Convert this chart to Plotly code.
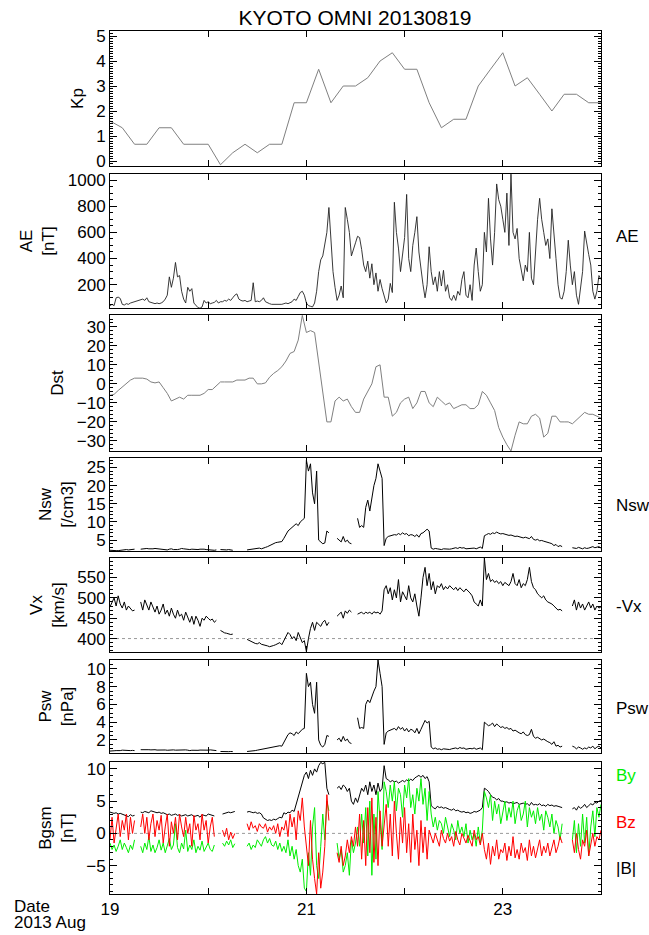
import plotly.graph_objects as go
from plotly.subplots import make_subplots

TITLE = "KYOTO OMNI 20130819"
DAY0 = 19.0
X_TICKS = [19, 20, 21, 22, 23, 24]
X_TEXT = ["19", "", "21", "", "23", ""]

# Kp, 3-hourly
kp = [1.6, 1.33, 0.67, 0.67, 1.33, 1.33, 0.67, 0.67, 0.67, -0.15,
      0.33, 0.67, 0.33, 0.67, 0.67, 2.33, 2.33, 3.67, 2.33, 3.0,
      3.0, 3.33, 4.0, 4.33, 3.67, 3.67, 2.33, 1.33, 1.67, 1.67,
      3.0, 3.67, 4.33, 3.0, 3.33, 2.67, 2.0, 2.67, 2.67, 2.33, 2.33]

# Dst, hourly
dst = [-6, -5.5, -3.5, -1.5, 0.5, 2, 3, 3, 3, 2.5,
       1, 0.5, 1, -2, -5, -9, -8, -7, -8, -6,
       -6, -6, -6, -5, -3, -3, -1, 1, 1, 1,
       1, 2, 2, 2, 3, 3, 0, 0, 0.5, 3.5,
       5.5, 7, 9, 12, 16, 17, 23, 36, 27, 28,
       27, 11, -5, -20, -20, -9, -7, -9, -8, -12,
       -15, -15, -8, -4, 0, 9, 10, -7, -7, -17,
       -15, -10, -8, -7, -13, -10, -4, -4, -10, -12,
       -7, -9, -11, -10, -13, -12, -11, -11, -13, -13,
       -11, -4, -6, -10, -14, -23, -28, -32, -35.3, -27,
       -20, -21, -21, -17, -16, -18, -28, -26, -17, -17,
       -20, -20, -20, -21, -19, -17, -15, -16, -16, -17,
       -18]

# AE [nT], half-hourly
ae = [40, 50, 40, 100, 105, 95, 50, 45, 55, 50, 60, 65, 70, 75, 80, 85, 90, 80, 100, 70,
      65, 60, 55, 60, 55, 60, 70, 90, 120, 260, 180, 250, 370, 260, 270, 150, 90, 60, 180, 150,
      170, 60, 40, 25, 20, 30, 80, 60,
      70, 55, 60, 65, 80, 60, 70, 70, 80, 75, 90, 80, 100, 120, 130, 90, 80, 75, 80, 70,
      75, 80, 215, 70, 75, 70, 80, 100, 70, 60, 55, 50, 50, 45, 50, 45, 50, 55, 60, 55,
      65, 70, 90, 80, 110, 140, 150, 120,
      60, 40, 35, 30, 60, 150, 300, 390, 420, 500, 600, 790, 500, 300, 180, 80, 120, 190, 100, 790,
      700, 600, 420, 480, 520, 570, 560, 470, 350, 300, 380, 250, 360, 200, 290, 150, 240, 170, 120, 60,
      90, 210, 140, 830, 600, 480, 300, 420,
      560, 890, 400, 300, 500, 600, 720, 450, 300, 200, 100, 200, 490, 300, 200, 260, 150, 300, 190, 310,
      150, 200, 100, 80, 120, 80, 150, 120, 240, 300, 120, 100, 200, 80, 350, 480, 300, 150, 200, 600,
      450, 860, 550, 350, 600, 970, 850, 800,
      700, 600, 900, 500, 1045, 600, 550, 630, 400, 300, 230, 350, 300, 600, 250, 200, 450, 700, 860, 700,
      600, 500, 550, 400, 780, 550, 400, 200, 100, 90, 150, 300, 540, 350, 200, 300, 120, 50, 200, 300,
      610, 500, 430, 350, 150, 90, 150, 270, 240]

# Nsw [/cm3], half-hourly (None = data gap)
nsw = ([2.2, 2.1, 2.2, 2.1, 2.1, 2.2, 2.3, 2.4, 2.4, 2.3, 2.4, 2.4, 2.5] + [None, None] +
       [2.5, 2.6, 2.5, 2.7, 2.6, 2.5, 2.6, 2.7, 2.6, 2.5, 2.4, 2.5, 2.4, 2.3, 2.5, 2.6, 2.4, 2.3, 2.4,
        2.5, 2.7, 2.6, 2.5, 2.6, 2.4, 2.5, 2.4, 2.3, 2.4, 2.5, 2.6, 2.5, 2.4, 2.3, 2.4, 2.3, 2.2, 2.3] +
       [None] + [2.4, 2.3, 2.2, 2.3, 2.4, 2.3, 2.2] + [None] * 6 +
       [2.3, 2.4, 2.6, 2.5, 2.6, 2.7, 2.8, 2.6, 2.7, 3.0, 3.2, 3.5, 3.8, 4.0, 4.3, 4.4, 4.5, 4.6, 5.5,
        6.5, 7.5, 8.0, 8.5, 9.0, 9.5, 9.0, 10.0, 10.5, 11.0] +
       [27, 24, 26, 18, 15, 24, 5.0, 4.5, 4.0, 4.2, 7.5, 7.0] + [None] * 3 +
       [5.5, 5.0, 4.5, 6.0, 4.5, 5.0, 4.2, 4.0] + [None] * 2 +
       [11, 8.5, 9.0, 8.5, 14, 16, 13, 17, 20, 22, 26, 24, 22] +
       [3.5, 5.5, 6.0, 6.2, 6.3, 6.5, 6.4, 6.8, 6.5, 7.0, 6.6, 6.8, 6.2, 6.5, 6.4, 6.0, 6.5, 5.8, 6.8,
        7.0, 7.5, 8.0, 7.5] +
       [2.8, 2.5, 2.7, 2.6, 2.5, 2.4, 2.6, 2.5, 2.4, 2.5, 2.6, 2.8, 2.9, 2.7, 3.0, 2.8, 2.9, 2.6, 2.7,
        2.8, 2.7, 2.8, 2.6, 2.9, 3.1, 2.7] +
       [6.2, 6.5, 6.8, 6.6, 7.0, 6.8, 7.2, 6.9, 6.7, 6.8, 6.6, 6.5, 6.3, 6.4, 6.2, 6.0, 6.1, 5.9, 5.8,
        5.6, 5.8, 5.5, 5.4, 6.0, 5.2, 5.0, 5.2, 4.8, 4.9, 4.7, 4.6, 4.5, 4.2, 4.0, 3.5, 3.8, 3.2, 3.5, 3.2] +
       [None] * 4 +
       [2.9, 2.8, 2.7, 3.0, 2.8, 2.6, 2.9, 2.7, 2.8, 3.0, 3.2, 2.9, 3.0, 3.2, 2.8])

# -Vx [km/s], half-hourly
vx = ([478, 490, 500, 480, 505, 485, 475, 490, 470, 480, 475, 468, 470] + [None, None] +
      [490, 470, 495, 480, 470, 490, 475, 465, 480, 460, 470, 485, 460, 470, 455, 475, 460, 450, 470,
       455, 460, 445, 465, 450, 440, 455, 435, 455, 445, 430, 450, 445, 455, 450, 445, 448, 440, 445] +
      [None] + [420, 416, 414, 413, 412, 410, 411] + [None] * 6 +
      [398, 395, 392, 390, 388, 387, 390, 386, 385, 384, 382, 380, 381, 383, 385, 388, 390, 385, 395,
       405, 415, 410, 400, 405, 395, 415, 400, 390, 395] +
      [368, 400, 425, 440, 420, 440, 435, 430, 440, 445, 432, 440] + [None] * 3 +
      [455, 460, 465, 450, 468, 462, 470, 465] + [None] * 2 +
      [460, 462, 465, 460, 465, 462, 465, 460, 466, 463, 465, 460, 468] +
      [520, 530, 510, 525, 495, 520, 500, 545, 490, 515, 505, 495, 530, 500, 490, 510, 480, 455, 500,
       550, 575, 530, 560] +
      [520, 540, 510, 530, 525, 535, 520, 528, 522, 530, 524, 520, 526, 518, 525, 520, 515, 522, 518,
       512, 505, 490, 485, 480, 495, 480] +
      [598, 545, 560, 540, 545, 538, 542, 535, 540, 530, 538, 535, 530, 540, 560, 535, 530, 545, 525,
       535, 530, 545, 575, 540, 525, 520, 510, 505, 500, 505, 495, 490, 488, 485, 480, 475, 470, 472, 468] +
      [None] * 4 +
      [480, 495, 470, 490, 475, 485, 470, 480, 490, 475, 485, 470, 480, 475, 478])

# Psw [nPa], half-hourly
psw = ([0.75, 0.8, 0.78, 0.8, 0.76, 0.8, 0.85, 0.82, 0.8, 0.78, 0.8, 0.82, 0.8] + [None, None] +
       [0.9, 0.92, 0.88, 0.95, 0.9, 0.88, 0.92, 0.9, 0.86, 0.88, 0.85, 0.9, 0.87, 0.84, 0.86, 0.9, 0.88,
        0.85, 0.87, 0.86, 0.9, 0.92, 0.88, 0.85, 0.8, 0.84, 0.82, 0.8, 0.83, 0.86, 0.84, 0.82, 0.8, 0.85,
        0.88, 0.86, 0.84, 0.8] +
       [None] + [0.7, 0.68, 0.7, 0.66, 0.68, 0.7, 0.69] + [None] * 6 +
       [0.7, 0.72, 0.7, 0.75, 0.8, 0.85, 0.9, 0.95, 1.0, 1.05, 1.1, 1.15, 1.2, 1.25, 1.3, 1.3, 1.35, 1.3,
        1.8, 2.2, 2.6, 2.8, 2.7, 2.5, 2.9, 2.7, 3.0, 3.2, 3.3] +
       [9.5, 8.0, 8.5, 6.0, 5.0, 8.5, 2.0, 1.4, 1.2, 1.5, 2.5, 2.4] + [None] * 3 +
       [2.0, 2.2, 1.8, 2.4, 1.9, 2.1, 1.7, 1.6] + [None] * 2 +
       [4.5, 3.3, 3.4, 3.3, 6.0, 6.5, 6.2, 7.0, 7.5, 8.0, 11.0, 9.5, 8.0] +
       [1.5, 2.8, 3.0, 3.1, 3.2, 3.3, 3.1, 3.5, 3.2, 3.4, 3.0, 3.3, 2.9, 3.2, 3.1, 2.8, 3.3, 2.7, 3.2,
        3.8, 4.2, 3.9, 4.1] +
       [1.2, 1.0, 1.1, 0.95, 1.0, 0.9, 1.0, 0.95, 0.9, 0.92, 1.0, 1.05, 1.1, 1.0, 1.15, 1.05, 1.1, 0.95,
        1.0, 1.05, 1.0, 1.1, 0.95, 1.05, 1.1, 0.9] +
       [4.0, 3.8, 3.6, 3.7, 3.9, 3.5, 3.8, 3.6, 3.4, 3.5, 3.3, 3.4, 3.2, 3.3, 3.0, 3.1, 2.9, 2.8, 2.7,
        2.9, 2.6, 2.5, 2.6, 3.2, 2.4, 2.2, 2.3, 2.1, 2.0, 2.1, 1.9, 1.8, 1.7, 1.5, 1.8, 1.3, 1.4, 1.2, 1.3] +
       [None] * 4 +
       [1.3, 1.2, 1.0, 1.2, 1.1, 0.95, 1.1, 1.0, 1.2, 1.1, 1.3, 1.0, 1.2, 1.3, 1.1])

# IMF |B|, By, Bz (GSM) [nT], half-hourly
bt = ([3.3, 3.2, 3.1, 3.2, 3.0, 3.1, 3.0, 2.9, 2.8, 2.6, 2.9, 2.7, 2.8] + [None, None] +
      [3.3, 3.2, 3.4, 3.3, 3.2, 3.5, 3.4, 3.3, 3.2, 3.3, 3.1, 3.2, 3.0, 2.9, 3.0, 2.8, 2.9, 3.0, 2.8,
       2.9, 2.7, 2.8, 2.9, 2.7, 2.8, 2.9, 2.6, 2.7, 2.8, 2.5, 2.9, 2.8, 2.7, 3.0, 2.9, 2.8, 2.7] +
      [None] * 3 + [3.0, 3.1, 3.2, 3.3, 3.2, 3.3, 3.4] + [None] * 5 +
      [3.3, 3.4, 3.3, 3.2, 3.3, 3.1, 3.2, 3.0, 2.4, 2.2, 2.0, 2.1, 2.0, 2.2, 2.1, 2.3, 2.5, 2.4, 3.2,
       3.0, 3.3, 3.2, 3.6, 3.4, 4.5, 5.5, 6.5, 7.5, 9.0, 9.5, 8.5, 9.8, 9.0, 10.0, 9.5, 10.5, 11.0,
       10.8, 11.0, 7.0, 6.0] +
      [None] * 3 +
      [7.0, 7.3, 6.8, 7.5, 7.2, 6.5, 7.0, 5.0, 4.5, 5.5, 4.8, 6.0, 7.0, 6.5, 7.5, 6.0, 8.0, 6.5, 7.5,
       6.0, 7.8, 6.5, 7.0, 10.5, 8.5, 8.3, 8.0, 8.2, 8.0, 8.1, 7.8, 8.0, 8.2, 8.0, 8.3, 8.1, 8.4, 8.2,
       8.6, 8.8, 9.0, 8.7, 9.0, 8.5, 8.8, 8.0, 4.3, 4.0, 3.8, 4.2, 4.0, 4.1, 3.9, 4.0, 3.8, 3.7, 3.6,
       3.8, 3.5, 3.6, 3.4, 3.3, 3.4, 3.2, 3.3, 3.1, 3.2, 3.4, 3.3, 3.5, 3.6, 4.0, 7.0, 6.8, 6.5, 6.0,
       5.6, 5.5, 5.2, 5.4, 5.0, 5.0, 4.8, 4.9, 4.7, 4.8, 4.6, 4.7, 4.8, 4.5, 4.6, 4.7, 4.5, 4.6, 4.3,
       4.8, 4.4, 4.5, 4.4, 4.6, 4.3, 4.4, 4.2, 4.5, 4.3, 4.4, 4.2, 4.3, 4.2, 4.1, 4.0] +
      [None] * 4 +
      [3.8, 4.0, 3.6, 4.2, 3.9, 4.1, 4.5, 4.0, 4.3, 4.6, 4.4, 4.8, 4.7, 5.0, 5.1])

by = ([-1.5, -2.5, -1.8, -2.8, -2.0, -1.0, -2.5, -1.5, -2.2, -3.0, -1.8, -2.5, -1.0] + [None, None] +
      [-2.0, -3.0, -1.5, -2.5, -0.5, -2.8, -1.8, -3.0, -2.2, -1.0, -2.6, -1.5, -3.0, -2.0, -0.8, -2.5,
       -1.8, 1.5, -2.2, -3.0, -1.5, -2.4, 0.5, -2.8, -1.8, -2.5, -1.0, -3.0, -2.0, -2.6, -1.2, -2.8,
       -2.0, -1.5, -2.5, -2.8, -1.8] +
      [None] * 3 + [-1.5, -2.0, -1.2, -1.8, -1.0, -2.2, -1.6] + [None] * 5 +
      [-2.0, -1.5, -2.5, -1.8, -2.2, -1.0, -1.5, -2.0, -1.0, -0.5, -1.5, -0.8, -1.8, -2.0, -1.2, -2.5,
       -1.5, -2.8, -2.0, -3.0, -1.0, -3.5, -2.0, -4.0, -2.5, -5.0, -6.0, -4.0, -8.5, -9.0, -3.0, -6.5,
       1.0, 4.0, -5.0, -7.0, -2.0, 3.0, -1.0, 5.0, 3.5] +
      [None] * 3 +
      [-1.5, -4.0, -2.5, -6.0, -5.0, -3.0, -6.5, -1.0, -3.0, -1.5, 1.0, -2.0, 3.0, -1.5, 4.0, -3.5,
       5.0, -6.5, 3.0, -4.0, 6.5, 2.0, -2.5, 8.0, 6.5, 4.0, 7.5, 5.0, 8.0, 3.5, 7.0, 6.0, 2.5, 7.5,
       5.5, 8.5, 4.0, 6.0, 3.0, 7.0, 5.0, 8.5, 4.5, 7.0, 2.0, 6.5, 3.0, 1.0, 2.5, 0.5, 2.0, 1.5, 0.0,
       2.5, 1.0, -0.5, 1.5, 0.5, -1.0, 2.0, 0.0, 1.0, -0.5, 1.5, -1.5, 0.5, -1.0, 0.0, -2.0, 1.0, -1.5,
       0.5, 6.5, 5.5, 4.0, 6.0, 2.0, 5.0, 3.0, 4.5, 1.5, 3.5, 5.0, 2.0, 4.0, 2.5, 5.0, 1.5, 3.5, 4.5,
       2.0, 3.0, 5.0, 1.0, 4.0, 2.5, 3.5, 1.5, 4.0, 2.0, 3.0, 0.5, 3.5, 2.5, 1.0, 3.0, 0.0, 2.0, 1.0,
       -1.0, 1.5] +
      [None] * 4 +
      [-1.0, 2.0, -3.0, 1.5, -2.0, 3.0, -1.5, 2.5, -3.5, 1.0, 3.5, -0.5, 4.0, 2.5, 4.5])

bz = ([-1.0, 2.5, -1.5, 1.0, 3.0, -0.5, 2.0, 0.5, 3.0, -1.0, 2.5, 0.0, 2.0] + [None, None] +
      [1.0, 3.0, 0.0, 2.5, -1.0, 1.5, 3.0, -0.5, 2.0, 0.5, 2.8, -1.5, 1.0, 3.0, -2.0, 1.8, 0.0, 2.5,
       -1.0, 3.0, 1.0, -0.5, 2.5, 0.0, 1.5, -2.0, 2.8, 0.5, 1.5, -1.0, 3.0, 0.5, 2.0, -1.5, 1.0, 2.5,
       -0.5] +
      [None] * 3 + [0.5, -0.5, 0.8, -1.0, 0.2, -0.8, 0.0] + [None] * 5 +
      [1.5, 0.5, 1.8, 0.8, 1.2, 0.3, 1.5, 1.0, 0.8, 1.5, 0.2, 1.0, 0.5, 1.2, 0.0, 1.5, -0.5, 1.0,
       0.5, 2.0, -0.5, 3.0, 1.0, 2.5, -1.0, 3.5, 2.0, 5.5, 1.0, -2.0, -5.0, 2.0, -4.0, -7.0, -9.4,
       -3.0, -8.5, -6.0, -2.0, 6.0, 2.0] +
      [None] * 3 +
      [-3.0, -4.5, -2.0, -5.0, -3.5, -1.0, -3.0, -0.5, -2.0, 1.0, -2.0, 3.0, -4.0, 2.0, -5.0, 4.0,
       -3.0, 5.5, -4.5, 2.5, -5.0, 3.5, -2.0, 1.0, 4.5, -2.0, 3.0, -3.5, 5.0, 0.0, -4.0, 2.5, -1.5,
       4.0, -3.0, 1.5, -4.5, 3.0, -2.5, 0.5, -5.0, 2.0, -3.0, 1.0, -4.0, 0.5, -0.5, -1.5, 0.0, -1.0,
       -2.0, 0.5, -0.8, -1.5, 0.0, -1.2, -0.5, -2.0, 0.3, -1.0, -1.8, 0.0, -0.7, -1.5, -0.3, -1.2,
       -2.0, 0.5, -1.0, -0.5, -1.8, 0.0, -2.5, -4.0, -1.5, -4.8, -2.0, -3.5, -1.0, -4.0, -2.5, -3.0,
       -1.5, -4.2, -2.0, -3.5, -0.5, -3.8, -2.5, -4.0, -1.5, -3.0, -2.2, -4.2, -1.0, -3.5, -2.0, -3.8,
       -2.5, -1.0, -3.5, -2.0, -3.0, -1.5, -3.5, -2.2, -1.0, -3.0, -2.0, -0.5, -1.5] +
      [None] * 4 +
      [-1.0, -3.0, 0.0, -2.5, -4.0, -1.0, -2.0, 0.5, -3.5, -1.5, 0.0, -2.0, -0.5, -1.0, 0.5])

for name, arr in [("ae", ae), ("nsw", nsw), ("vx", vx), ("psw", psw), ("bt", bt), ("by", by), ("bz", bz)]:
    assert len(arr) == 241, (name, len(arr))
assert len(kp) == 41 and len(dst) == 121

t_kp = [DAY0 + i * 3 / 24 for i in range(len(kp))]
t_dst = [DAY0 + i / 24 for i in range(len(dst))]
t30 = [DAY0 + i / 48 for i in range(241)]

# ---- layout geometry (pixels) ----
W, H = 649, 935
ML, MR, MT, MB = 110, 48, 31, 41
PH = H - MT - MB
panels = [(31, 166), (174, 308), (315, 451), (458, 551), (558, 652), (660, 753), (762, 894)]


def dom(top, bot):
    return [(H - MB - bot) / PH, (H - MB - top) / PH]


def py(p):
    return (H - MB - p) / PH


FONT = "Liberation Sans, Arial, Helvetica, sans-serif"
fig = make_subplots(rows=7, cols=1, shared_xaxes=True)

GRAY = "#808080"
fig.add_trace(go.Scatter(x=t_kp, y=kp, mode="lines", line=dict(color=GRAY, width=1)), row=1, col=1)
fig.add_trace(go.Scatter(x=t30, y=ae, mode="lines", line=dict(color="#222222", width=0.9)), row=2, col=1)
fig.add_trace(go.Scatter(x=t_dst, y=dst, mode="lines", line=dict(color=GRAY, width=1)), row=3, col=1)
fig.add_trace(go.Scatter(x=t30, y=nsw, mode="lines", line=dict(color="black", width=1)), row=4, col=1)
fig.add_trace(go.Scatter(x=[19, 24], y=[400, 400], mode="lines",
                         line=dict(color="#999999", width=1, dash="dot")), row=5, col=1)
fig.add_trace(go.Scatter(x=t30, y=vx, mode="lines", line=dict(color="black", width=1)), row=5, col=1)
fig.add_trace(go.Scatter(x=t30, y=psw, mode="lines", line=dict(color="black", width=1)), row=6, col=1)
fig.add_trace(go.Scatter(x=[19, 24], y=[0, 0], mode="lines",
                         line=dict(color="#999999", width=1, dash="dot")), row=7, col=1)
fig.add_trace(go.Scatter(x=t30, y=bt, mode="lines", line=dict(color="black", width=1)), row=7, col=1)
fig.add_trace(go.Scatter(x=t30, y=by, mode="lines", line=dict(color="#00ee00", width=1)), row=7, col=1)
fig.add_trace(go.Scatter(x=t30, y=bz, mode="lines", line=dict(color="#ff0000", width=1)), row=7, col=1)

ycfg = [
    ("Kp", [-0.2, 5.2], 1, 0.1),
    ("AE<br>[nT]", [22, 1046], 200, 50),
    ("Dst", [-35.3, 36.2], 10, 2),
    ("Nsw<br>[/cm3]", [2.0, 27.6], 5, 1),
    ("Vx<br>[km/s]", [367, 598], 50, 10),
    ("Psw<br>[nPa]", [0.53, 11.0], 2, 0.5),
    ("Bgsm<br>[nT]", [-9.4, 11.07], 5, 1),
]

for k, ((top, bot), (title, rng, dt, mdt)) in enumerate(zip(panels, ycfg), start=1):
    sfx = "" if k == 1 else str(k)
    fig.layout["yaxis" + sfx].update(
        domain=dom(top, bot), range=rng, dtick=dt, tick0=0,
        showline=True, linecolor="black", linewidth=1, mirror="ticks",
        ticks="inside", ticklen=7, tickcolor="black", tickwidth=1,
        minor=dict(ticks="inside", ticklen=3, dtick=mdt, tick0=0, tickcolor="black"),
        showgrid=False, zeroline=False,
        tickfont=dict(family=FONT, size=17, color="black"),
        title=dict(text=title, font=dict(family=FONT, size=17, color="black"), standoff=8),
    )
    fig.layout["xaxis" + sfx].update(
        range=[19, 24], tickvals=X_TICKS, ticktext=X_TEXT,
        showline=True, linecolor="black", linewidth=1, mirror="ticks",
        ticks="inside", ticklen=6, tickcolor="black",
        showgrid=False, zeroline=False, showticklabels=(k == 7),
        tickfont=dict(family=FONT, size=17, color="black"),
    )

ann = []
for txt, p, col in [("AE", 236, "black"), ("Nsw", 506, "black"), ("-Vx", 606, "black"),
                    ("Psw", 708, "black"), ("By", 775, "#00ee00"), ("Bz", 822, "#ff0000"),
                    ("|B|", 868, "black")]:
    ann.append(dict(text=txt, xref="paper", yref="paper", x=(614 - ML) / (W - ML - MR), y=py(p),
                    xanchor="left", yanchor="middle", showarrow=False,
                    font=dict(family=FONT, size=17, color=col)))
for txt, p in [("Date", 906), ("2013 Aug", 922)]:
    ann.append(dict(text=txt, xref="paper", yref="paper", x=(12 - ML) / (W - ML - MR), y=py(p),
                    xanchor="left", yanchor="middle", showarrow=False,
                    font=dict(family=FONT, size=17, color="black")))

fig.update_layout(
    width=W, height=H, margin=dict(l=ML, r=MR, t=MT, b=MB),
    paper_bgcolor="white", plot_bgcolor="white", showlegend=False,
    title=dict(text=TITLE, x=(355) / W, xanchor="center", y=1 - 18 / H, yanchor="middle",
               font=dict(family=FONT, size=21, color="black")),
    annotations=ann,
)

fig.write_html("out.html", config={"displayModeBar": False},
               post_script="document.body.style.margin='0';document.body.style.overflow='hidden';")
